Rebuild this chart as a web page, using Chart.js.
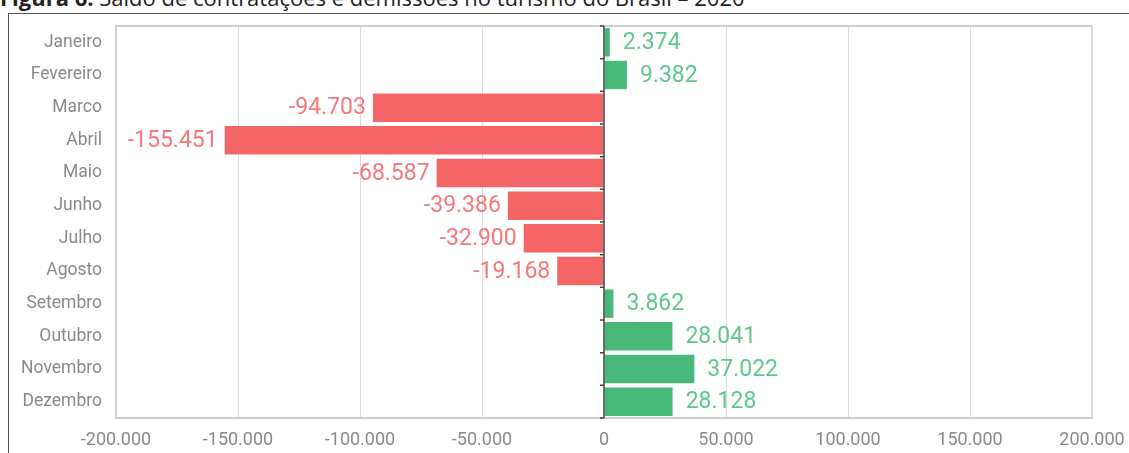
<html>
<head>
    <script src="https://cdn.jsdelivr.net/npm/chart.js"></script>
    <style>
        body {
            margin: 0;
            background-color: #fff;
            width: 1129px;
            height: 453px;
            overflow: hidden;
            position: relative;
        }

        #titulo {
            position: absolute;
            left: 0;
            top: -14px;
            font-family: 'Open Sans', sans-serif;
            font-size: 22px;
            line-height: 22px;
            color: #222;
            white-space: nowrap;
        }

        #moldura {
            position: absolute;
            left: 8px;
            top: 13px;
            width: 1121px;
            height: 440px;
            border-top: 1.5px solid #555;
            border-left: 1.5px solid #555;
        }

        #caixa {
            position: absolute;
            left: 1px;
            top: 1px;
            width: 1120px;
            height: 439px;
        }
    </style>
</head>

<body>
    <div id="titulo"><b>Figura 6.</b> Saldo de contratações e demissões no turismo do Brasil – 2020</div>
    <div id="moldura">
        <div id="caixa"><canvas id="meuGrafico"></canvas></div>
    </div>
</body>
<script>

    // dados
    var meses = ['Janeiro', 'Fevereiro', 'Marco', 'Abril', 'Maio', 'Junho', 'Julho', 'Agosto',
        'Setembro', 'Outubro', 'Novembro', 'Dezembro'];
    var saldo = [2374, 9382, -94703, -155451, -68587, -39386, -32900, -19168, 3862, 28041, 37022, 28128];

    var corPositivo = 'rgb(72, 185, 120)';
    var corNegativo = 'rgb(243, 101, 102)';
    var textoPositivo = 'rgb(96, 200, 140)';
    var textoNegativo = 'rgb(246, 120, 120)';

    function formatar(v) {
        return v.toLocaleString('pt-BR');
    }

    // rotulos dos valores ao lado das barras
    var rotulos = {
        id: 'rotulos',
        afterDatasetsDraw: function (chart) {
            var ctx = chart.ctx;
            var meta = chart.getDatasetMeta(0);
            ctx.save();
            ctx.font = '23px Roboto, sans-serif';
            ctx.textBaseline = 'middle';
            meta.data.forEach(function (barra, i) {
                var v = saldo[i];
                if (v >= 0) {
                    ctx.fillStyle = textoPositivo;
                    ctx.textAlign = 'left';
                    ctx.fillText(formatar(v), barra.x + 13, barra.y + 1);
                } else {
                    ctx.fillStyle = textoNegativo;
                    ctx.textAlign = 'right';
                    ctx.fillText(formatar(v), barra.x - 7, barra.y + 1);
                }
            });
            ctx.restore();
        }
    };

    // eixo do zero com marcas e borda de cima
    var eixoZero = {
        id: 'eixoZero',
        afterDatasetsDraw: function (chart) {
            var ctx = chart.ctx;
            var area = chart.chartArea;
            var x0 = chart.scales.x.getPixelForValue(0);
            var y = chart.scales.y;
            ctx.save();
            ctx.strokeStyle = '#cfcfcf';
            ctx.lineWidth = 2;
            ctx.beginPath();
            ctx.moveTo(area.left, area.top);
            ctx.lineTo(area.right, area.top);
            ctx.stroke();

            ctx.strokeStyle = '#444';
            ctx.lineWidth = 1.5;
            ctx.beginPath();
            ctx.moveTo(x0, area.top);
            ctx.lineTo(x0, area.bottom);
            for (var i = 0; i <= meses.length; i++) {
                var yy = y.getPixelForValue(i - 0.5);
                ctx.moveTo(x0 - 4, yy);
                ctx.lineTo(x0, yy);
            }
            ctx.stroke();
            ctx.restore();
        }
    };

    var paintingCanvas = document.getElementById('meuGrafico').getContext('2d');
    var chart = new Chart(paintingCanvas, {
        type: 'bar',
        data: {
            labels: meses,
            datasets: [{
                data: saldo,
                backgroundColor: saldo.map(function (v) { return v >= 0 ? corPositivo : corNegativo; }),
                categoryPercentage: 1,
                barPercentage: 0.87
            }]
        },
        options: {
            indexAxis: 'y',
            responsive: true,
            maintainAspectRatio: false,
            animation: false,
            layout: { padding: { top: 11, right: 38, left: 0, bottom: 0 } },
            plugins: {
                legend: { display: false },
                tooltip: { enabled: false }
            },
            scales: {
                x: {
                    min: -200000,
                    max: 200000,
                    afterFit: function (s) { s.height = 36; s.paddingLeft = 0; s.paddingRight = 0; },
                    ticks: {
                        stepSize: 50000,
                        color: '#8a8a8a',
                        font: { family: 'Roboto', size: 18 },
                        padding: 12,
                        callback: function (v) { return formatar(v); }
                    },
                    grid: {
                        color: function (c) { return c.tick && c.tick.value === 0 ? 'rgba(0,0,0,0)' : '#dcdcdc'; },
                        lineWidth: function (c) { return (c.tick && (c.tick.value === -200000 || c.tick.value === 200000)) ? 2 : 1; },
                        drawTicks: false
                    },
                    border: { display: true, color: '#cfcfcf', width: 2 }
                },
                y: {
                    afterFit: function (s) { s.width = 106; s.paddingTop = 0; s.paddingBottom = 0; },
                    ticks: {
                        color: '#8a8a8a',
                        font: { family: 'Roboto', size: 17.5 },
                        padding: 14
                    },
                    grid: { display: false, drawTicks: false },
                    border: { display: true, color: '#cfcfcf', width: 2 }
                }
            }
        },
        plugins: [rotulos, eixoZero]
    });

</script>
</html>
